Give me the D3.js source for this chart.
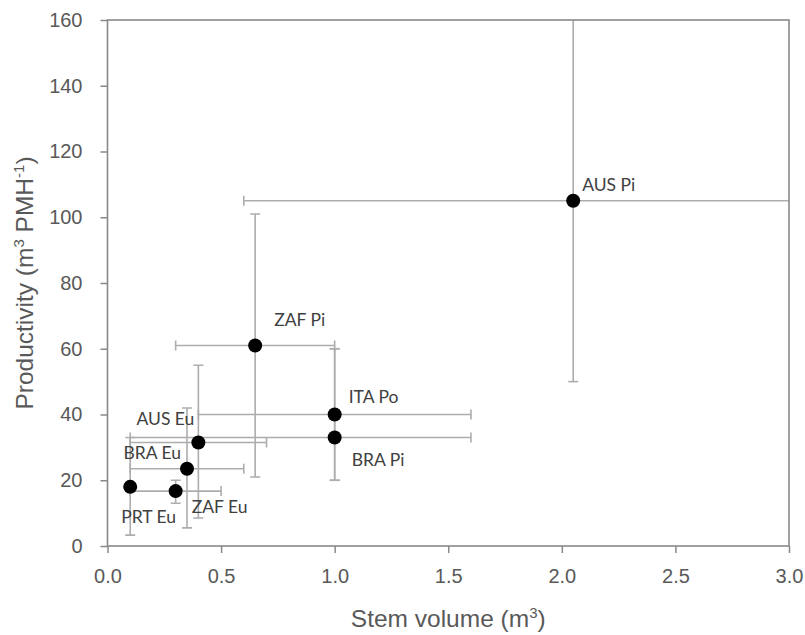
<!DOCTYPE html>
<html>
<head>
<meta charset="utf-8">
<script src="https://cdn.jsdelivr.net/npm/d3@7"></script>
<style>
  body { margin: 0; background: #fff; }
  .tick text { font-family: "Liberation Sans", Arial, sans-serif; fill: #595959; }
</style>
</head>
<body>
<div id="chart"></div>
<script>
// Productivity vs stem volume, with min/max ranges as error bars

var labels = ["AUS Pi", "ZAF Pi", "ITA Po", "BRA Pi", "AUS Eu", "BRA Eu", "PRT Eu", "ZAF Eu"];
var stemVol = [2.05, 0.65, 1.0, 1.0, 0.4, 0.35, 0.1, 0.3];
var productivity = [105, 61, 40, 33, 31.5, 23.5, 18, 16.7];
var volLow = [0.6, 0.3, 0.4, 0.1, 0.1, 0.1, 0.1, 0.1];
var volHigh = [3.1, 1.0, 1.6, 1.6, 0.7, 0.6, 0.1, 0.5];
var prodLow = [50, 21, 20, 20, 8.5, 5.5, 3.3, 13];
var prodHigh = [170, 101, 60, 60, 55, 42, 33, 20];
var xTicks = [0, 0.5, 1, 1.5, 2, 2.5, 3];
var yTicks = [0, 20, 40, 60, 80, 100, 120, 140, 160];

var width = 805, height = 635;
var margin = { top: 20, right: 16, bottom: 89, left: 107.5 };

// label placement relative to the dot (px), anchor
var labelPos = [
    [9, -10, "start"], [19, -19, "start"], [14, -12, "start"], [17, 28, "start"],
    [-4, -17, "end"], [-6, -10, "end"], [-9, 36, "start"], [16, 22, "start"]
];

var points = labels.map(function(l, i) {
    return { label: l, x: stemVol[i], y: productivity[i],
             x0: volLow[i], x1: volHigh[i], y0: prodLow[i], y1: prodHigh[i], pos: labelPos[i] };
});

var svg = d3.select("#chart").append("svg")
    .attr("width", width)
    .attr("height", height);

var xScale = d3.scaleLinear().domain([0, 3]).range([margin.left, width - margin.right]);
var yScale = d3.scaleLinear().domain([0, 160]).range([height - margin.bottom, margin.top]);

var axisColor = "#898989";
var barColor = "#adadad";

svg.append("clipPath").attr("id", "plotclip")
  .append("rect")
    .attr("x", xScale(0)).attr("y", yScale(160))
    .attr("width", xScale(3) - xScale(0))
    .attr("height", yScale(0) - yScale(160));

// axes
var xAxis = d3.axisBottom(xScale).tickValues(xTicks).tickFormat(d3.format(".1f")).tickSize(7).tickSizeOuter(0).tickPadding(11);
var yAxis = d3.axisLeft(yScale).tickValues(yTicks).tickSize(7).tickSizeOuter(0).tickPadding(18);

var gx = svg.append("g").attr("transform", "translate(0," + yScale(0) + ")").call(xAxis);
var gy = svg.append("g").attr("transform", "translate(" + xScale(0) + ",0)").call(yAxis);
[gx, gy].forEach(function(g) {
    g.select(".domain").remove();
    g.selectAll(".tick line").attr("stroke", axisColor).attr("stroke-width", 1.5);
    g.selectAll(".tick text").style("font-size", "20px");
});
gx.selectAll(".tick text").attr("dy", "0.95em");

// error bars
var bars = svg.append("g").attr("clip-path", "url(#plotclip)")
    .attr("stroke", barColor).attr("stroke-width", 1.6).attr("fill", "none");
var cap = 5;

points.forEach(function(d) {
    var cx = xScale(d.x), cy = yScale(d.y);
    if (d.x0 !== d.x1) {
        bars.append("line").attr("x1", xScale(d.x0)).attr("x2", xScale(d.x1)).attr("y1", cy).attr("y2", cy);
        [d.x0, d.x1].forEach(function(v) {
            bars.append("line").attr("x1", xScale(v)).attr("x2", xScale(v)).attr("y1", cy - cap).attr("y2", cy + cap);
        });
    }
    if (d.y0 !== d.y1) {
        bars.append("line").attr("x1", cx).attr("x2", cx).attr("y1", yScale(d.y0)).attr("y2", yScale(d.y1));
        [d.y0, d.y1].forEach(function(v) {
            bars.append("line").attr("x1", cx - cap).attr("x2", cx + cap).attr("y1", yScale(v)).attr("y2", yScale(v));
        });
    }
});

// plot frame
svg.append("rect")
    .attr("x", xScale(0)).attr("y", yScale(160))
    .attr("width", xScale(3) - xScale(0))
    .attr("height", yScale(0) - yScale(160))
    .attr("fill", "none").attr("stroke", axisColor).attr("stroke-width", 1.6);

// dots
svg.append("g").selectAll("circle")
    .data(points)
  .enter().append("circle")
    .attr("cx", function(d) { return xScale(d.x); })
    .attr("cy", function(d) { return yScale(d.y); })
    .attr("r", 7)
    .attr("fill", "#000");

// point labels
svg.append("g").selectAll("text")
    .data(points)
  .enter().append("text")
    .attr("x", function(d) { return xScale(d.x) + d.pos[0]; })
    .attr("y", function(d) { return yScale(d.y) + d.pos[1]; })
    .attr("text-anchor", function(d) { return d.pos[2]; })
    .style("font-family", "Lato, 'Open Sans', sans-serif")
    .style("font-size", "17.5px")
    .style("fill", "#404040")
    .text(function(d) { return d.label; });

// axis titles
var titleFont = "'Liberation Sans', Arial, sans-serif";
var xt = svg.append("text")
    .attr("x", (xScale(0) + xScale(3)) / 2)
    .attr("y", 627)
    .attr("text-anchor", "middle")
    .style("font-family", titleFont).style("font-size", "24.5px").style("fill", "#595959");
xt.append("tspan").text("Stem volume (m");
xt.append("tspan").attr("dy", -9).style("font-size", "15px").text("3");
xt.append("tspan").attr("dy", 9).text(")");

var yt = svg.append("text")
    .attr("transform", "translate(33," + (yScale(80)) + ") rotate(-90)")
    .attr("text-anchor", "middle")
    .style("font-family", titleFont).style("font-size", "24.5px").style("fill", "#595959");
yt.append("tspan").text("Productivity (m");
yt.append("tspan").attr("dy", -9).style("font-size", "15px").text("3");
yt.append("tspan").attr("dy", 9).text(" PMH");
yt.append("tspan").attr("dy", -9).style("font-size", "15px").text("-1");
yt.append("tspan").attr("dy", 9).text(")");
</script>
</body>
</html>
